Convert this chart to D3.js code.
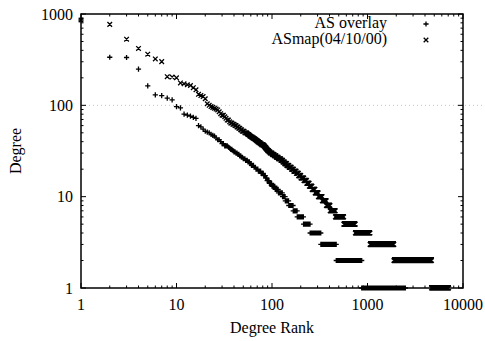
<!DOCTYPE html>
<html>
<head>
<meta charset="utf-8">
<script src="https://cdn.jsdelivr.net/npm/d3@7"></script>
<style>
  body { margin: 0; background: #fff; }
  svg { display: block; font-family: "Liberation Serif", "DejaVu Serif", serif; }
  .frame { fill: none; stroke: #000; stroke-width: 1.5; }
  .tick { stroke: #000; stroke-width: 1; }
  .mark { fill: none; stroke: #000; stroke-width: 1.3; }
  text { font-size: 16px; fill: #000; }
</style>
</head>
<body>
<div id="root"></div>
<script>
// degree runs: each degree value is held by ranks (previous last + 1) .. last
const overlayDegree = [860, 336, 334, 249, 163, 130, 128, 120, 115, 97, 94,
  80, 78, 76, 74, 72, 60, 58, 55, 52, 51, 50, 48, 47,
  46, 44, 42, 40, 38, 36, 35, 34, 33, 32, 31, 30, 29, 28, 27, 26, 25,
  24, 23, 22, 21, 20, 19, 18, 17, 16, 15, 14, 13, 12, 11, 10,
  9, 8, 7, 6, 5, 4, 3, 2, 1];
const overlayLastRank = [1, 2, 3, 4, 5, 6, 7, 8, 9, 10, 11,
  12, 13, 14, 15, 16, 17, 18, 19, 20, 21, 22, 23, 24,
  25, 26, 28, 29, 31, 34, 35, 36, 38, 39, 41, 43, 45, 47, 49, 52, 55,
  58, 60, 64, 67, 71, 76, 81, 85, 88, 93, 99, 107, 116, 128, 137,
  149, 166, 183, 213, 250, 324, 470, 869, 2490];

const asmapDegree = [860, 770, 530, 420, 363, 322, 301, 206, 204, 200,
  176, 172, 168, 165, 156, 148, 132, 128, 125, 118, 104, 100, 97, 95, 93, 91, 89,
  85, 81, 78, 75, 72, 69, 66, 64, 62, 60, 58, 56, 54, 52, 50,
  49, 48, 47, 46, 45, 44, 43, 42, 41, 40, 39, 38, 37, 36, 35, 34, 33, 32, 31, 30,
  29, 28, 27, 26, 25, 24, 23, 22, 21, 20, 19, 18, 17, 16, 15, 14, 13, 12, 11, 10,
  9, 8, 7, 6, 5, 4, 3, 2, 1];
const asmapLastRank = [1, 2, 3, 4, 5, 6, 7, 8, 9, 10,
  11, 12, 13, 14, 15, 16, 17, 18, 19, 20, 21, 22, 23, 24, 25, 26, 27,
  28, 29, 31, 32, 33, 35, 36, 38, 40, 42, 44, 46, 48, 51, 54,
  55, 57, 58, 60, 62, 64, 66, 68, 70, 72, 75, 77, 81, 83, 85, 87, 89, 92, 95, 100,
  105, 110, 116, 123, 129, 135, 142, 150, 159, 168, 179, 189, 200, 215, 230, 245, 262, 282, 305, 335,
  370, 405, 460, 563, 745, 1062, 1888, 4680, 7080];

const xTicks = [1, 10, 100, 1000, 10000];
const yTicks = [1, 10, 100, 1000];
const seriesNames = ["AS overlay", "ASmap(04/10/00)"];

const width = 485,
    height = 341;
const plot = { left: 81, right: 463, top: 14, bottom: 288 };

const x = d3.scaleLog().domain([1, 10000]).range([plot.left, plot.right]);
const y = d3.scaleLog().domain([1, 1000]).range([plot.bottom, plot.top]);

const svg = d3.select("#root").append("svg")
    .attr("width", width)
    .attr("height", height);

function expand(degrees, lastRanks) {
    const pts = [];
    let first = 1;
    degrees.forEach((d, i) => {
        for (let r = first; r <= lastRanks[i]; r++) pts.push({ rank: r, degree: d });
        first = lastRanks[i] + 1;
    });
    return pts;
}

const plus = (cx, cy, s) => `M${cx - s},${cy}h${2 * s}M${cx},${cy - s}v${2 * s}`;
const cross = (cx, cy, s) => `M${cx - s},${cy - s}l${2 * s},${2 * s}M${cx - s},${cy + s}l${2 * s},${-2 * s}`;

// faint dotted scan line at degree 100
svg.append("line")
    .attr("x1", 85).attr("x2", width)
    .attr("y1", y(100)).attr("y2", y(100))
    .attr("stroke", "#c4c4c4")
    .attr("stroke-width", 1)
    .attr("stroke-dasharray", "1,3");

// ticks, inward on all four sides (major + minor)
const minorX = x.ticks(), minorY = y.ticks();
const ticks = svg.append("g");
minorX.forEach(v => {
    const len = xTicks.includes(v) ? 5 : 2.5;
    ticks.append("line").attr("class", "tick")
        .attr("x1", x(v)).attr("x2", x(v)).attr("y1", plot.bottom).attr("y2", plot.bottom - len);
    ticks.append("line").attr("class", "tick")
        .attr("x1", x(v)).attr("x2", x(v)).attr("y1", plot.top).attr("y2", plot.top + len);
});
minorY.forEach(v => {
    const len = yTicks.includes(v) ? 5 : 2.5;
    ticks.append("line").attr("class", "tick")
        .attr("x1", plot.left).attr("x2", plot.left + len).attr("y1", y(v)).attr("y2", y(v));
    ticks.append("line").attr("class", "tick")
        .attr("x1", plot.right).attr("x2", plot.right - len).attr("y1", y(v)).attr("y2", y(v));
});

svg.append("rect")
    .attr("class", "frame")
    .attr("x", plot.left)
    .attr("y", plot.top)
    .attr("width", plot.right - plot.left)
    .attr("height", plot.bottom - plot.top);

// tick labels
svg.selectAll(".xlab")
    .data(xTicks)
    .enter()
    .append("text")
    .attr("x", d => x(d))
    .attr("y", 310)
    .style("text-anchor", "middle")
    .text(d => d);

svg.selectAll(".ylab")
    .data(yTicks)
    .enter()
    .append("text")
    .attr("x", 73)
    .attr("y", d => y(d))
    .attr("dy", "0.35em")
    .style("text-anchor", "end")
    .text(d => d);

// axis titles
svg.append("text")
    .attr("x", (plot.left + plot.right) / 2)
    .attr("y", 333)
    .style("text-anchor", "middle")
    .text("Degree Rank");

svg.append("text")
    .attr("transform", `translate(21,${(plot.top + plot.bottom) / 2}) rotate(-90)`)
    .style("text-anchor", "middle")
    .text("Degree");

// data points
const overlayPts = expand(overlayDegree, overlayLastRank);
const asmapPts = expand(asmapDegree, asmapLastRank);

svg.append("path")
    .attr("class", "mark")
    .attr("d", overlayPts.map(p => plus(x(p.rank), y(p.degree), 2.6)).join(""));

svg.append("path")
    .attr("class", "mark")
    .attr("d", asmapPts.map(p => cross(x(p.rank), y(p.degree), 2.3)).join(""));

// legend
const legend = svg.append("g");
seriesNames.forEach((name, i) => {
    legend.append("text")
        .attr("x", 387)
        .attr("y", 28 + i * 16)
        .style("text-anchor", "end")
        .text(name);
    legend.append("path")
        .attr("class", "mark")
        .attr("d", i === 0 ? plus(426, 24 + i * 16, 2.6) : cross(426, 24 + i * 16, 2.3));
});
</script>
</body>
</html>
